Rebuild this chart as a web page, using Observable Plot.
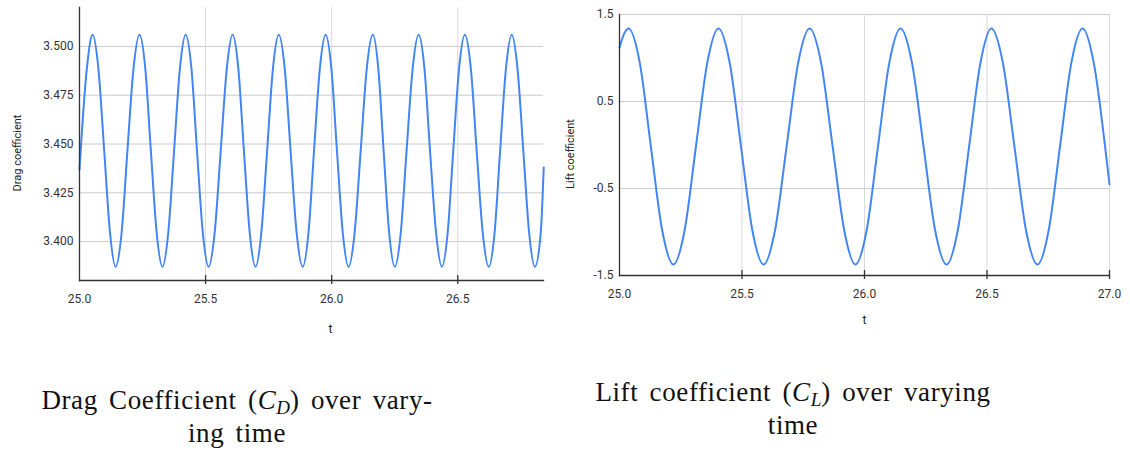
<!DOCTYPE html>
<html><head><meta charset="utf-8">
<script src="https://cdn.jsdelivr.net/npm/d3@7"></script>
<script src="https://cdn.jsdelivr.net/npm/@observablehq/plot@0.6"></script>
<style>
body{margin:0;background:#fff;width:1130px;height:455px;position:relative;overflow:hidden;font-family:Roboto,sans-serif}
#left{position:absolute;left:0;top:0}
#right{position:absolute;left:560px;top:0}
.cap{position:absolute;font-family:"Liberation Serif","DejaVu Serif",serif;font-size:27px;letter-spacing:0.6px;word-spacing:4px;text-align:center;line-height:33px;color:#111;white-space:nowrap}
.cap sub{font-size:19px;line-height:0;vertical-align:-5px;font-style:italic;letter-spacing:0}
</style></head><body>
<div id="left"></div><div id="right"></div>
<div class="cap" style="left:37px;top:384px;width:400px">Drag Coefficient (<i>C</i><sub>D</sub>) over vary-<br>ing time</div>
<div class="cap" style="left:593px;top:376px;width:400px">Lift coefficient (<i>C</i><sub>L</sub>) over varying<br>time</div>
<script>
// Drag coefficient samples (t, C_D)
const dragT = [
  25.000, 25.029, 25.052,
  25.075, 25.098, 25.121, 25.143, 25.167, 25.190, 25.214, 25.238,
  25.261, 25.283, 25.306, 25.329, 25.352, 25.375, 25.398, 25.421,
  25.444, 25.466, 25.489, 25.512, 25.536, 25.560, 25.584, 25.607,
  25.630, 25.652, 25.675, 25.698, 25.721, 25.744, 25.767, 25.790,
  25.814, 25.837, 25.861, 25.885, 25.908, 25.930, 25.953, 25.976,
  25.999, 26.021, 26.044, 26.067, 26.091, 26.115, 26.139, 26.163,
  26.185, 26.206, 26.228, 26.250, 26.274, 26.297, 26.321, 26.345,
  26.368, 26.390, 26.414, 26.437, 26.460, 26.482, 26.505, 26.528,
  26.552, 26.575, 26.599, 26.623, 26.646, 26.668, 26.691, 26.714,
  26.737, 26.760, 26.783, 26.806, 26.829, 26.841
];
const dragCd = [
  3.437, 3.4885, 3.506,
  3.4885, 3.4465, 3.4045, 3.387, 3.4045, 3.4465, 3.4885, 3.506,
  3.4885, 3.4465, 3.4045, 3.387, 3.4045, 3.4465, 3.4885, 3.506,
  3.4885, 3.4465, 3.4045, 3.387, 3.4045, 3.4465, 3.4885, 3.506,
  3.4885, 3.4465, 3.4045, 3.387, 3.4045, 3.4465, 3.4885, 3.506,
  3.4885, 3.4465, 3.4045, 3.387, 3.4045, 3.4465, 3.4885, 3.506,
  3.4885, 3.4465, 3.4045, 3.387, 3.4045, 3.4465, 3.4885, 3.506,
  3.4885, 3.4465, 3.4045, 3.387, 3.4045, 3.4465, 3.4885, 3.506,
  3.4885, 3.4465, 3.4045, 3.387, 3.4045, 3.4465, 3.4885, 3.506,
  3.4885, 3.4465, 3.4045, 3.387, 3.4045, 3.4465, 3.4885, 3.506,
  3.4885, 3.4465, 3.4045, 3.387, 3.4045, 3.438
];
// Lift coefficient samples (t, C_L)
const liftT = [
  25.000, 25.019, 25.037,
  25.083, 25.128, 25.174, 25.220, 25.266, 25.312, 25.358, 25.404,
  25.450, 25.496, 25.542, 25.588, 25.635, 25.682, 25.729, 25.776,
  25.823, 25.870, 25.917, 25.963, 26.009, 26.055, 26.101, 26.147,
  26.194, 26.241, 26.288, 26.335, 26.381, 26.427, 26.473, 26.518,
  26.565, 26.612, 26.659, 26.706, 26.752, 26.798, 26.844, 26.890,
  26.936, 26.982, 27.000
];
const liftCl = [
  1.12, 1.28, 1.339,
  0.941, -0.018, -0.977, -1.374, -0.977, -0.018, 0.941, 1.339,
  0.941, -0.018, -0.977, -1.374, -0.977, -0.018, 0.941, 1.339,
  0.941, -0.018, -0.977, -1.374, -0.977, -0.018, 0.941, 1.339,
  0.941, -0.018, -0.977, -1.374, -0.977, -0.018, 0.941, 1.339,
  0.941, -0.018, -0.977, -1.374, -0.977, -0.018, 0.941, 1.339,
  0.941, -0.018, -0.45
];

const dragXDomain = [25.0, 26.84];
const dragYDomain = [3.38, 3.52];
const dragXTicks = [25.0, 25.5, 26.0, 26.5];
const dragYTicks = [3.400, 3.425, 3.450, 3.475, 3.500];
const liftXDomain = [25.0, 27.0];
const liftYDomain = [-1.5, 1.5];
const liftXTicks = [25.0, 25.5, 26.0, 26.5, 27.0];
const liftYTicks = [-1.5, -0.5, 0.5, 1.5];

const drag = dragT.map((t, i) => ({t, v: dragCd[i]}));
const lift = liftT.map((t, i) => ({t, v: liftCl[i]}));

const blue = "#4285f4";
const styleBase = {fontFamily: "Roboto, sans-serif", fontSize: "12px", color: "#333", background: "transparent", overflow: "visible"};

function chart({data, xDomain, yDomain, xTicks, yTicks, yFmt, width, height, mL, mR, mT, mB, yLabel, yLabelDx, yLabelDy, tDx, tDy}) {
  const innerH = height - mT - mB;
  return Plot.plot({
    width, height, marginLeft: mL, marginRight: mR, marginTop: mT, marginBottom: mB,
    style: styleBase,
    x: {domain: xDomain},
    y: {domain: yDomain},
    marks: [
      Plot.gridY(yTicks.filter(d => d !== yDomain[0]), {stroke: "#cccccc", strokeOpacity: 1}),
      Plot.gridX(xTicks.filter(d => d !== xDomain[0]), {stroke: "#d9d9d9", strokeOpacity: 1}),
      Plot.line(data, {x: "t", y: "v", stroke: blue, strokeWidth: 2, curve: "monotone-x"}),
      Plot.frame({anchor: "left", stroke: "#333", strokeWidth: 1.3}),
      Plot.frame({anchor: "bottom", stroke: "#333", strokeWidth: 1.3}),
      Plot.ruleX(xTicks.filter(d => d !== xDomain[0]), {x: d => d, insetTop: innerH - 5, insetBottom: -4, stroke: "#333", strokeWidth: 1.3}),
      Plot.axisX(xTicks, {tickSize: 0, tickPadding: 14, tickFormat: d => d.toFixed(1), label: null, fill: "#333", fontSize: 12}),
      Plot.axisY(yTicks, {tickSize: 0, tickPadding: 6, tickFormat: yFmt, label: null, fill: "#333", fontSize: 12}),
      Plot.text([yLabel], {frameAnchor: "left", textAnchor: "middle", rotate: -90, dx: yLabelDx, dy: yLabelDy, fontSize: "11px", fill: "#222"}),
      Plot.text(["t"], {frameAnchor: "bottom", dx: tDx, dy: tDy, fontSize: "12px", fill: "#222"})
    ]
  });
}

document.getElementById("left").append(chart({
  data: drag, xDomain: dragXDomain, yDomain: dragYDomain, xTicks: dragXTicks, yTicks: dragYTicks,
  yFmt: d => d.toFixed(3), width: 560, height: 345, mL: 79, mR: 17, mT: 7, mB: 65,
  yLabel: "Drag coefficient", yLabelDx: -62, yLabelDy: 9, tDx: 19, tDy: 52
}));
document.getElementById("right").append(chart({
  data: lift, xDomain: liftXDomain, yDomain: liftYDomain, xTicks: liftXTicks, yTicks: liftYTicks,
  yFmt: d => d.toFixed(1), width: 570, height: 345, mL: 59, mR: 21, mT: 14, mB: 70,
  yLabel: "Lift coefficient", yLabelDx: -49, yLabelDy: 9, tDx: 0, tDy: 48
}));
</script>
</body></html>
